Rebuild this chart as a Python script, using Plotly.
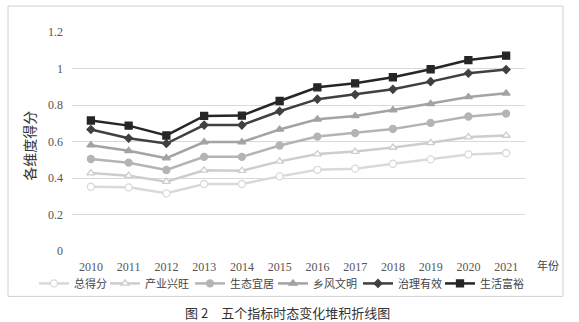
import plotly.graph_objects as go

# Years on the horizontal axis
years = ["2010", "2011", "2012", "2013", "2014", "2015",
         "2016", "2017", "2018", "2019", "2020", "2021"]

# Stacked components (each series adds on top of the previous one)
total_score = [0.352, 0.349, 0.316, 0.367, 0.367, 0.409, 0.445, 0.451, 0.478, 0.502, 0.529, 0.537]
industry    = [0.075, 0.064, 0.064, 0.075, 0.073, 0.082, 0.086, 0.094, 0.089, 0.091, 0.095, 0.096]
ecology     = [0.077, 0.071, 0.064, 0.074, 0.076, 0.087, 0.096, 0.101, 0.102, 0.109, 0.113, 0.120]
civility    = [0.076, 0.065, 0.065, 0.081, 0.081, 0.088, 0.095, 0.094, 0.103, 0.104, 0.107, 0.111]
governance  = [0.086, 0.069, 0.080, 0.093, 0.093, 0.100, 0.110, 0.117, 0.114, 0.122, 0.130, 0.130]
affluence   = [0.049, 0.069, 0.044, 0.050, 0.052, 0.056, 0.065, 0.062, 0.066, 0.068, 0.072, 0.076]

series_names = ["总得分", "产业兴旺", "生态宜居", "乡风文明", "治理有效", "生活富裕"]
series_values = [total_score, industry, ecology, civility, governance, affluence]

y_tick_vals = [0, 0.2, 0.4, 0.6, 0.8, 1.0, 1.2]
y_tick_text = ["0", "0.2", "0.4", "0.6", "0.8", "1", "1.2"]

styles = [
    dict(color="#d9d9d9", symbol="circle", fill="white", size=7, lw=26),
    dict(color="#cdcdcd", symbol="triangle-up", fill="white", size=7, lw=40),
    dict(color="#b4b4b4", symbol="circle", fill=None, size=7, lw=38),
    dict(color="#a3a3a3", symbol="triangle-up", fill=None, size=7, lw=40),
    dict(color="#404040", symbol="diamond", fill=None, size=6, lw=37),
    dict(color="#262626", symbol="square", fill=None, size=7, lw=44),
]

fig = go.Figure()
for name, vals, st in zip(series_names, series_values, styles):
    fill_color = st["fill"] if st["fill"] else st["color"]
    fig.add_trace(go.Scatter(
        x=years, y=vals, name=name,
        mode="lines+markers",
        stackgroup="stack", fill="none",
        legendwidth=st["lw"],
        line=dict(color=st["color"], width=2.5),
        marker=dict(symbol=st["symbol"], size=st["size"], color=fill_color,
                    line=dict(color=st["color"], width=1.3)),
    ))

serif = "Liberation Serif, DejaVu Serif, serif"
cjk = "Noto Sans CJK SC"

fig.update_layout(
    width=579, height=322,
    margin=dict(l=72, r=54, t=32, b=70.5),
    paper_bgcolor="white", plot_bgcolor="white",
    showlegend=True,
    legend=dict(orientation="h", x=(34 - 72) / 453, xanchor="left",
                y=-(284 - 251.5) / 219.5, yanchor="middle", traceorder="normal",
                font=dict(family=cjk, size=11, color="#444"),
                itemwidth=30, tracegroupgap=0, bgcolor="rgba(0,0,0,0)"),
    xaxis=dict(type="category", range=[-0.5, 11.5], showgrid=False,
               showline=False, zeroline=False, ticks="",
               ticklabelstandoff=7,
               tickfont=dict(family=serif, size=12, color="#555")),
    yaxis=dict(range=[0, 1.2], tickvals=y_tick_vals, ticktext=y_tick_text,
               showgrid=True, gridcolor="#d9d9d9", gridwidth=1,
               zeroline=False, showline=False, ticks="",
               ticklabelstandoff=8,
               tickfont=dict(family=serif, size=12, color="#555")),
    shapes=[dict(type="rect", xref="paper", yref="paper",
                 x0=-64 / 453, x1=(563 - 72) / 453,
                 y0=-(297 - 251.5) / 219.5, y1=(251.5 - 6) / 219.5,
                 line=dict(color="#d0d0d0", width=1), fillcolor="rgba(0,0,0,0)",
                 layer="below")],
    annotations=[
        dict(text="各维度得分", textangle=-90, xref="paper", yref="paper",
             x=(29 - 72) / 453, y=(251.5 - 146) / 219.5,
             xanchor="center", yanchor="middle", showarrow=False,
             font=dict(family=cjk, size=14, color="#333")),
        dict(text="年份", xref="paper", yref="paper",
             x=(548 - 72) / 453, y=-(266 - 251.5) / 219.5,
             xanchor="center", yanchor="middle", showarrow=False,
             font=dict(family=cjk, size=11, color="#444")),
        dict(text="图 2　五个指标时态变化堆积折线图", xref="paper", yref="paper",
             x=(287 - 72) / 453, y=-(313 - 251.5) / 219.5,
             xanchor="center", yanchor="middle", showarrow=False,
             font=dict(family=cjk, size=13, color="#333")),
    ],
)

fig.write_html("out.html")
